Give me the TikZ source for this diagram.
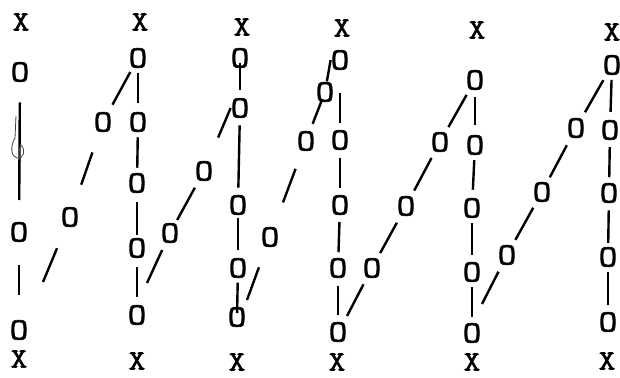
\documentclass[tikz,border=0pt]{standalone}
\usepackage{fontspec}
\usepackage{tikz}
\usetikzlibrary{calc}

\newfontfamily\typer{Latin Modern Mono}[FakeBold=2.2, FakeStretch=1.15]

\begin{document}
\begin{tikzpicture}[x=1pt, y=-1pt,
    ring/.style={font=\typer\fontsize{31}{31}\selectfont, inner sep=0pt},
    cross/.style={font=\typer\fontsize{28}{28}\selectfont, inner sep=0pt},
    bar/.style={line width=2.4pt},
    scrawl/.style={line width=0.8pt, black!75}]
  \useasboundingbox (0,0) rectangle (620,377);

  % X marks, top and bottom
  \node[cross] (x1t) at (21,22) {X};   \node[cross] (x1b) at (19,359) {X};
  \node[cross] (x2t) at (140,22) {X};  \node[cross] (x2b) at (137,361) {X};
  \node[cross] (x3t) at (242,27) {X};  \node[cross] (x3b) at (237,362) {X};
  \node[cross] (x4t) at (342,28) {X};  \node[cross] (x4b) at (337,362) {X};
  \node[cross] (x5t) at (477,30) {X};  \node[cross] (x5b) at (472,362) {X};
  \node[cross] (x6t) at (612,32) {X};  \node[cross] (x6b) at (607,361) {X};

  % upright columns
  \node[ring] (c1a) at (20,72) {O};
  \node[ring] (c1b) at (19,232) {O};
  \node[ring] (c1c) at (19,330) {O};
  \node[ring] (c2a) at (138,58) {O};
  \node[ring] (c2b) at (138,122) {O};
  \node[ring] (c2c) at (137,183) {O};
  \node[ring] (c2d) at (137,248) {O};
  \node[ring] (c2e) at (137,315) {O};
  \node[ring] (c3a) at (240,58) {O};
  \node[ring] (c3b) at (240,108) {O};
  \node[ring] (c3c) at (238,205) {O};
  \node[ring] (c3d) at (238,268) {O};
  \node[ring] (c3e) at (237,317) {O};
  \node[ring] (c4a) at (340,60) {O};
  \node[ring] (c4b) at (340,140) {O};
  \node[ring] (c4c) at (340,205) {O};
  \node[ring] (c4d) at (338,268) {O};
  \node[ring] (c4e) at (338,332) {O};
  \node[ring] (c5a) at (475,80) {O};
  \node[ring] (c5b) at (475,145) {O};
  \node[ring] (c5c) at (472,208) {O};
  \node[ring] (c5d) at (472,272) {O};
  \node[ring] (c5e) at (472,333) {O};
  \node[ring] (c6a) at (612,65) {O};
  \node[ring] (c6b) at (610,130) {O};
  \node[ring] (c6c) at (609,193) {O};
  \node[ring] (c6d) at (608,257) {O};
  \node[ring] (c6e) at (608,322) {O};

  % slanted chains
  \node[ring] (d1a) at (70,217) {O};
  \node[ring] (d1b) at (103,122) {O};
  \node[ring] (d2a) at (170,233) {O};
  \node[ring] (d2b) at (204,171) {O};
  \node[ring] (d3a) at (270,237) {O};
  \node[ring] (d3b) at (306,141) {O};
  \node[ring] (d3c) at (325,92) {O};
  \node[ring] (d4a) at (372,268) {O};
  \node[ring] (d4b) at (406,206) {O};
  \node[ring] (d4c) at (440,142) {O};
  \node[ring] (d5a) at (507,255) {O};
  \node[ring] (d5b) at (542,192) {O};
  \node[ring] (d5c) at (576,128) {O};

  % loose ends of the chains
  \coordinate (f1) at (43,282);
  \coordinate (f2) at (147,283);
  \coordinate (f3) at (247,300);
  \coordinate (f4) at (347,316);
  \coordinate (f5) at (482,304);

  % bars between rings
  \foreach \a/\b/\s/\e in {c1a/c1b/.19/.80, c1b/c1c/.34/.64,
      c2a/c2b/.23/.70, c2b/c2c/.25/.75, c2c/c2d/.29/.80, c2d/c2e/.28/.73,
      c3a/c3b/.10/.64, c3b/c3c/.18/.82, c3c/c3d/.20/.71, c3d/c3e/.30/.92,
      c4a/c4b/.41/.79, c4b/c4c/.28/.74, c4c/c4d/.27/.75, c4d/c4e/.28/.73,
      c5a/c5b/.26/.69, c5b/c5c/.24/.71, c5c/c5d/.23/.73, c5d/c5e/.25/.74,
      c6a/c6b/.23/.72, c6b/c6c/.27/.75, c6c/c6d/.27/.78, c6d/c6e/.23/.74,
      d1a/d1b/.34/.68, d1b/c2a/.27/.78,
      d2a/d2b/.21/.73, d2b/c3b.west/.53/1,
      d3a/d3b/.36/.71, d3b/d3c/.35/.83, d3c/c4a.west/.33/1,
      d4a/d4b/.24/.73, d4b/d4c/.24/.75, d4c/c5a/.24/.76,
      d5a/d5b/.24/.75, d5b/d5c/.23/.73, d5c/c6a/.25/.76,
      f1/d1a/0/.52, f2/d2a/0/.66, f3/d3a/0/.52, f4/d4a/0/.66, f5/d5a/0/.66}
    \draw[bar] ($(\a)!\s!(\b)$) -- ($(\a)!\e!(\b)$);

  % pencil scrawl on the first column
  \draw[scrawl] (16,116) -- (15,138)
    .. controls (10,146) and (11,157) .. (17,158)
    .. controls (24,159) and (26,150) .. (21,145)
    .. controls (18,150) and (19,156) .. (21,162);
\end{tikzpicture}
\end{document}
